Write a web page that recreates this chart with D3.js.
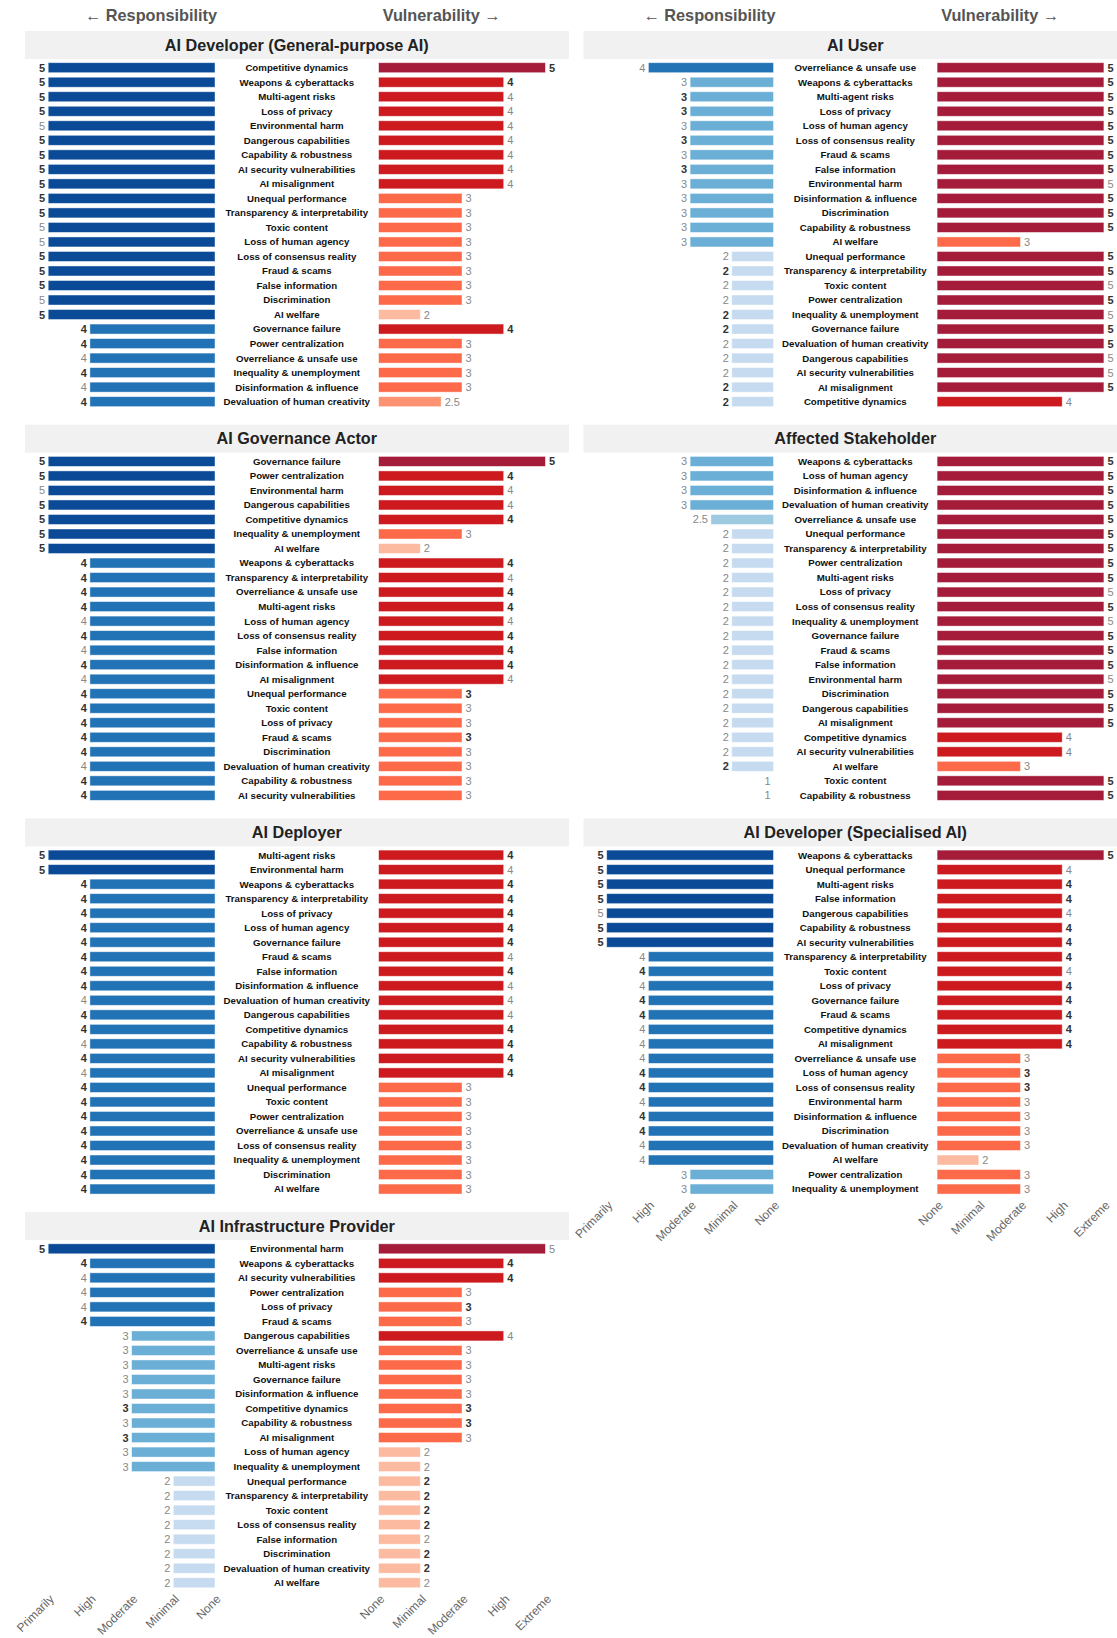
<!DOCTYPE html>
<html><head><meta charset="utf-8">
<script src="https://cdn.jsdelivr.net/npm/d3@7"></script>
<style>
html,body{margin:0;padding:0;background:#fff;}
svg{display:block;font-family:"Liberation Sans",Arial,Helvetica,sans-serif;}
</style></head>
<body><svg id="c" width="1117" height="1638"></svg>
<script>
// ---------- DATA ----------
const respTicks = ["None","Minimal","Moderate","High","Primarily"]; // values 1..5
const vulnTicks = ["None","Minimal","Moderate","High","Extreme"];   // values 1..5
const headerLeft = "← Responsibility";
const headerRight = "Vulnerability →";

// AI Developer (General-purpose AI)
const devGPRisks = ["Competitive dynamics","Weapons & cyberattacks","Multi-agent risks","Loss of privacy","Environmental harm","Dangerous capabilities","Capability & robustness","AI security vulnerabilities","AI misalignment","Unequal performance","Transparency & interpretability","Toxic content","Loss of human agency","Loss of consensus reality","Fraud & scams","False information","Discrimination","AI welfare","Governance failure","Power centralization","Overreliance & unsafe use","Inequality & unemployment","Disinformation & influence","Devaluation of human creativity"];
const devGPResp     = [5,5,5,5,5,5,5,5,5,5,5,5,5,5,5,5,5,5,4,4,4,4,4,4];
const devGPRespBold = [1,1,1,1,0,1,1,1,1,1,1,0,0,1,1,1,0,1,1,1,0,1,0,1];
const devGPVuln     = [5,4,4,4,4,4,4,4,4,3,3,3,3,3,3,3,3,2,4,3,3,3,3,2.5];
const devGPVulnBold = [1,1,0,0,0,0,0,0,0,0,0,0,0,0,0,0,0,0,1,0,0,0,0,0];

// AI User
const userRisks = ["Overreliance & unsafe use","Weapons & cyberattacks","Multi-agent risks","Loss of privacy","Loss of human agency","Loss of consensus reality","Fraud & scams","False information","Environmental harm","Disinformation & influence","Discrimination","Capability & robustness","AI welfare","Unequal performance","Transparency & interpretability","Toxic content","Power centralization","Inequality & unemployment","Governance failure","Devaluation of human creativity","Dangerous capabilities","AI security vulnerabilities","AI misalignment","Competitive dynamics"];
const userResp     = [4,3,3,3,3,3,3,3,3,3,3,3,3,2,2,2,2,2,2,2,2,2,2,2];
const userRespBold = [0,0,1,1,0,1,0,1,0,0,0,0,0,0,1,0,0,1,1,0,0,0,1,1];
const userVuln     = [5,5,5,5,5,5,5,5,5,5,5,5,3,5,5,5,5,5,5,5,5,5,5,4];
const userVulnBold = [1,1,1,1,1,1,1,1,0,1,1,1,0,1,1,0,1,0,1,1,0,0,1,0];

// AI Governance Actor
const govRisks = ["Governance failure","Power centralization","Environmental harm","Dangerous capabilities","Competitive dynamics","Inequality & unemployment","AI welfare","Weapons & cyberattacks","Transparency & interpretability","Overreliance & unsafe use","Multi-agent risks","Loss of human agency","Loss of consensus reality","False information","Disinformation & influence","AI misalignment","Unequal performance","Toxic content","Loss of privacy","Fraud & scams","Discrimination","Devaluation of human creativity","Capability & robustness","AI security vulnerabilities"];
const govResp     = [5,5,5,5,5,5,5,4,4,4,4,4,4,4,4,4,4,4,4,4,4,4,4,4];
const govRespBold = [1,1,0,1,1,1,1,1,1,1,1,0,1,0,1,0,1,1,1,1,1,0,1,1];
const govVuln     = [5,4,4,4,4,3,2,4,4,4,4,4,4,4,4,4,3,3,3,3,3,3,3,3];
const govVulnBold = [1,1,0,0,1,0,0,1,0,1,1,0,1,1,1,0,1,0,0,1,0,0,0,0];

// Affected Stakeholder
const affRisks = ["Weapons & cyberattacks","Loss of human agency","Disinformation & influence","Devaluation of human creativity","Overreliance & unsafe use","Unequal performance","Transparency & interpretability","Power centralization","Multi-agent risks","Loss of privacy","Loss of consensus reality","Inequality & unemployment","Governance failure","Fraud & scams","False information","Environmental harm","Discrimination","Dangerous capabilities","AI misalignment","Competitive dynamics","AI security vulnerabilities","AI welfare","Toxic content","Capability & robustness"];
const affResp     = [3,3,3,3,2.5,2,2,2,2,2,2,2,2,2,2,2,2,2,2,2,2,2,1,1];
const affRespBold = [0,0,0,0,0,0,0,0,0,0,0,0,0,0,0,0,0,0,0,0,0,1,0,0];
const affVuln     = [5,5,5,5,5,5,5,5,5,5,5,5,5,5,5,5,5,5,5,4,4,3,5,5];
const affVulnBold = [1,1,1,1,1,1,1,1,1,0,1,0,1,1,1,0,1,1,1,0,0,0,1,1];

// AI Deployer
const depRisks = ["Multi-agent risks","Environmental harm","Weapons & cyberattacks","Transparency & interpretability","Loss of privacy","Loss of human agency","Governance failure","Fraud & scams","False information","Disinformation & influence","Devaluation of human creativity","Dangerous capabilities","Competitive dynamics","Capability & robustness","AI security vulnerabilities","AI misalignment","Unequal performance","Toxic content","Power centralization","Overreliance & unsafe use","Loss of consensus reality","Inequality & unemployment","Discrimination","AI welfare"];
const depResp     = [5,5,4,4,4,4,4,4,4,4,4,4,4,4,4,4,4,4,4,4,4,4,4,4];
const depRespBold = [1,1,1,1,1,1,1,1,1,1,0,1,1,0,1,0,1,1,1,1,1,1,1,1];
const depVuln     = [4,4,4,4,4,4,4,4,4,4,4,4,4,4,4,4,3,3,3,3,3,3,3,3];
const depVulnBold = [1,0,1,1,1,1,1,0,1,0,0,0,1,1,1,1,0,0,0,0,0,0,0,0];

// AI Developer (Specialised AI)
const devSpRisks = ["Weapons & cyberattacks","Unequal performance","Multi-agent risks","False information","Dangerous capabilities","Capability & robustness","AI security vulnerabilities","Transparency & interpretability","Toxic content","Loss of privacy","Governance failure","Fraud & scams","Competitive dynamics","AI misalignment","Overreliance & unsafe use","Loss of human agency","Loss of consensus reality","Environmental harm","Disinformation & influence","Discrimination","Devaluation of human creativity","AI welfare","Power centralization","Inequality & unemployment"];
const devSpResp     = [5,5,5,5,5,5,5,4,4,4,4,4,4,4,4,4,4,4,4,4,4,4,3,3];
const devSpRespBold = [1,1,1,1,0,1,1,0,1,0,1,1,0,0,0,1,1,0,1,1,0,0,0,0];
const devSpVuln     = [5,4,4,4,4,4,4,4,4,4,4,4,4,4,3,3,3,3,3,3,3,2,3,3];
const devSpVulnBold = [1,0,1,1,0,1,1,1,0,1,1,1,1,1,0,1,1,0,0,0,0,0,0,0];

// AI Infrastructure Provider
const infRisks = ["Environmental harm","Weapons & cyberattacks","AI security vulnerabilities","Power centralization","Loss of privacy","Fraud & scams","Dangerous capabilities","Overreliance & unsafe use","Multi-agent risks","Governance failure","Disinformation & influence","Competitive dynamics","Capability & robustness","AI misalignment","Loss of human agency","Inequality & unemployment","Unequal performance","Transparency & interpretability","Toxic content","Loss of consensus reality","False information","Discrimination","Devaluation of human creativity","AI welfare"];
const infResp     = [5,4,4,4,4,4,3,3,3,3,3,3,3,3,3,3,2,2,2,2,2,2,2,2];
const infRespBold = [1,1,0,0,0,1,0,0,0,0,0,1,0,1,0,0,0,0,0,0,0,0,0,0];
const infVuln     = [5,4,4,3,3,3,4,3,3,3,3,3,3,3,2,2,2,2,2,2,2,2,2,2];
const infVulnBold = [0,1,1,0,1,0,0,0,0,0,0,1,1,0,0,0,1,1,1,1,0,1,1,0];

// ---------- PANEL TABLE ----------
const panels = [
  {title:"AI Developer (General-purpose AI)", col:0, row:0, risks:devGPRisks, resp:devGPResp, rb:devGPRespBold, vuln:devGPVuln, vb:devGPVulnBold},
  {title:"AI User", col:1, row:0, risks:userRisks, resp:userResp, rb:userRespBold, vuln:userVuln, vb:userVulnBold},
  {title:"AI Governance Actor", col:0, row:1, risks:govRisks, resp:govResp, rb:govRespBold, vuln:govVuln, vb:govVulnBold},
  {title:"Affected Stakeholder", col:1, row:1, risks:affRisks, resp:affResp, rb:affRespBold, vuln:affVuln, vb:affVulnBold},
  {title:"AI Deployer", col:0, row:2, risks:depRisks, resp:depResp, rb:depRespBold, vuln:depVuln, vb:depVulnBold},
  {title:"AI Developer (Specialised AI)", col:1, row:2, risks:devSpRisks, resp:devSpResp, rb:devSpRespBold, vuln:devSpVuln, vb:devSpVulnBold, axis:true},
  {title:"AI Infrastructure Provider", col:0, row:3, risks:infRisks, resp:infResp, rb:infRespBold, vuln:infVuln, vb:infVulnBold, axis:true}
];

// ---------- LAYOUT ----------
const colX = [0, 558.5];
const row1Y = 67.7, panelPitch = 393.7, rowStep = 14.52;
const labelX = 296.8;
const xL = d3.scaleLinear().domain([1,5]).range([215, 48.2]);
const xR = d3.scaleLinear().domain([1,5]).range([378.6, 545.4]);
const colL = d3.scaleOrdinal().domain([1,2,2.5,3,4,5]).range(["#eef3fa","#c6dbef","#9ecae1","#6baed6","#2272b6","#0a4a97"]);
const colR = d3.scaleOrdinal().domain([1,2,2.5,3,4,5]).range(["#fff0ea","#fcbba1","#fc9272","#fc6a4a","#cc1a1f","#a41c3a"]);

const svg = d3.select("#c");
svg.append("rect").attr("width",1117).attr("height",1638).attr("fill","#fff");

// headers
colX.forEach(cx=>{
  const g = svg.append("g").attr("transform",`translate(${cx},0)`);
  g.append("text").attr("x",151).attr("y",20.5).attr("text-anchor","middle")
    .attr("font-size",16.3).attr("font-weight","bold").attr("fill","#555").text(headerLeft);
  g.append("text").attr("x",441.6).attr("y",20.5).attr("text-anchor","middle")
    .attr("font-size",16.3).attr("font-weight","bold").attr("fill","#555").text(headerRight);
});

panels.forEach(p=>{
  const top = row1Y + p.row*panelPitch;
  const g = svg.append("g").attr("transform",`translate(${colX[p.col]},0)`);
  // title box
  g.append("rect").attr("x",25).attr("y",top-36.7).attr("width",544).attr("height",28).attr("fill","#f1f1f1");
  g.append("text").attr("x",labelX).attr("y",top-17).attr("text-anchor","middle")
    .attr("font-size",16.2).attr("font-weight","bold").attr("fill","#222").text(p.title);

  const y = d3.scaleBand().domain(p.risks).range([top-rowStep/2, top-rowStep/2 + rowStep*p.risks.length]);
  const rows = p.risks.map((r,i)=>({risk:r, resp:p.resp[i], rb:p.rb[i], vuln:p.vuln[i], vb:p.vb[i]}));
  const rg = g.selectAll("g.row").data(rows).enter().append("g").attr("class","row")
    .attr("transform",d=>`translate(0,${y(d.risk)+y.bandwidth()/2})`);

  rg.filter(d=>d.resp>1).append("rect").attr("x",d=>xL(d.resp)).attr("y",-5).attr("height",10)
    .attr("width",d=>xL(1)-xL(d.resp)).attr("fill",d=>colL(d.resp))
    .attr("stroke","#fff").attr("stroke-opacity",0.55).attr("stroke-width",0.8);
  rg.filter(d=>d.vuln>1).append("rect").attr("x",xR(1)).attr("y",-5).attr("height",10)
    .attr("width",d=>xR(d.vuln)-xR(1)).attr("fill",d=>colR(d.vuln))
    .attr("stroke","#fff").attr("stroke-opacity",0.55).attr("stroke-width",0.8);

  rg.append("text").attr("x",labelX).attr("dy","0.35em").attr("text-anchor","middle")
    .attr("font-size",9.7).attr("font-weight","bold").attr("fill","#111").text(d=>d.risk);

  rg.append("text").attr("x",d=>xL(d.resp)-3).attr("dy","0.36em").attr("text-anchor","end")
    .attr("font-size",11).attr("font-weight",d=>d.rb?"bold":"normal").attr("fill",d=>d.rb?"#333":"#888")
    .text(d=>d.resp);
  rg.append("text").attr("x",d=>xR(d.vuln)+3.5).attr("dy","0.36em").attr("text-anchor","start")
    .attr("font-size",11).attr("font-weight",d=>d.vb?"bold":"normal").attr("fill",d=>d.vb?"#333":"#888")
    .text(d=>d.vuln);

  if(p.axis){
    const ay = top + rowStep*(p.risks.length-1) + 17;
    [[xL,respTicks],[xR,vulnTicks]].forEach(([sc,labels])=>{
      const ax = g.append("g").attr("transform",`translate(0,${ay})`)
        .call(d3.axisBottom(sc).tickValues([1,2,3,4,5]).tickSize(0).tickFormat(v=>labels[v-1]));
      ax.select(".domain").remove();
      ax.selectAll("text").attr("x",0).attr("y",0).attr("dy",0)
        .attr("text-anchor","end").attr("transform","translate(6,0) rotate(-45)")
        .attr("font-size",12).attr("fill","#666")
        .attr("font-family",'"Liberation Sans",Arial,Helvetica,sans-serif');
    });
  }
});
</script></body></html>
